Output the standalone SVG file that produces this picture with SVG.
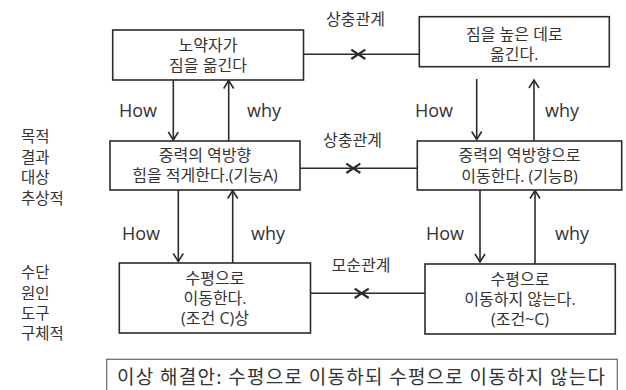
<svg xmlns="http://www.w3.org/2000/svg" width="626" height="390" viewBox="0 0 626 390">
<style>
.box{fill:#fff;stroke:#2b2b2b;stroke-width:1.6}
.bt{font-family:"Open Sans","Noto Sans CJK KR",sans-serif;font-size:16px;fill:#333;text-anchor:middle}
.lbl{font-family:"Noto Sans CJK KR",sans-serif;font-size:15.5px;fill:#333}
.hw{font-family:"Open Sans","Noto Sans CJK KR",sans-serif;font-size:18px;fill:#333}
.rel{font-family:"Noto Sans CJK KR",sans-serif;font-size:16px;fill:#333}
.ln{stroke:#2b2b2b;stroke-width:1.6;fill:none}
.arr{stroke:#2b2b2b;stroke-width:1.6;fill:none;marker-end:url(#ah)}
.x{stroke:#2b2b2b;stroke-width:2.2;fill:none}
</style>
<defs>
<marker id="ah" markerUnits="userSpaceOnUse" markerWidth="20" markerHeight="20" refX="0" refY="0" viewBox="-10 -10 20 20" orient="auto" overflow="visible">
<path d="M-8,-5 L0,0 L-8,5" fill="none" stroke="#2b2b2b" stroke-width="1.6"/>
</marker>
</defs>
<rect width="626" height="390" fill="#fff"/>
<g id="side-labels">
<text class="lbl" x="21" y="141.5">목적</text>
<text class="lbl" x="21" y="162.5">결과</text>
<text class="lbl" x="21" y="183">대상</text>
<text class="lbl" x="21" y="203.5">추상적</text>
<text class="lbl" x="21" y="278">수단</text>
<text class="lbl" x="21" y="298.5">원인</text>
<text class="lbl" x="21" y="318.5">도구</text>
<text class="lbl" x="21" y="339">구체적</text>
</g>
<g id="connectors">
<line class="ln" x1="303.5" y1="54.3" x2="419.3" y2="54.3"/>
<path class="x" d="M351.3,49.6 L365.3,59 M351.3,59 L365.3,49.6"/>
<line class="ln" x1="300" y1="168.3" x2="417" y2="168.3"/>
<path class="x" d="M346.3,163.6 L360.3,173 M346.3,173 L360.3,163.6"/>
<line class="ln" x1="310.5" y1="293.3" x2="425" y2="293.3"/>
<path class="x" d="M354.7,288.6 L368.7,298 M354.7,298 L368.7,288.6"/>
<line class="arr" x1="173.3" y1="80" x2="173.3" y2="140"/>
<line class="arr" x1="228.7" y1="141" x2="228.7" y2="80.5"/>
<line class="arr" x1="476.7" y1="79" x2="476.7" y2="139.5"/>
<line class="arr" x1="534" y1="141" x2="534" y2="80"/>
<line class="arr" x1="178.3" y1="190" x2="178.3" y2="261.5"/>
<line class="arr" x1="232.7" y1="263" x2="232.7" y2="190.5"/>
<line class="arr" x1="480" y1="190" x2="480" y2="262"/>
<line class="arr" x1="535" y1="264" x2="535" y2="190.5"/>
<text class="rel" x="326" y="25">상충관계</text>
<text class="rel" x="323" y="145.5">상충관계</text>
<text class="rel" x="331.5" y="271">모순관계</text>
<text class="hw" x="119" y="117">How</text>
<text class="hw" x="247" y="117">why</text>
<text class="hw" x="415" y="117">How</text>
<text class="hw" x="545" y="117">why</text>
<text class="hw" x="122" y="240">How</text>
<text class="hw" x="251" y="240">why</text>
<text class="hw" x="426" y="240">How</text>
<text class="hw" x="555" y="240">why</text>
</g>
<g id="node-goal">
<rect class="box" x="112.7" y="30" width="190.8" height="50"/>
<text class="bt" x="208" y="51">노약자가</text>
<text class="bt" x="208" y="71">짐을 옮긴다</text>
</g>
<g id="node-lift">
<rect class="box" x="419.3" y="16.7" width="190" height="50"/>
<text class="bt" x="514.3" y="39.5">짐을 높은 데로</text>
<text class="bt" x="514.3" y="59.5">옮긴다.</text>
</g>
<g id="node-funcA">
<rect class="box" x="110" y="141" width="190" height="49"/>
<text class="bt" x="205" y="161">중력의 역방향</text>
<text class="bt" x="205" y="181">힘을 적게한다.(기능A)</text>
</g>
<g id="node-funcB">
<rect class="box" x="417.3" y="141" width="204.4" height="49"/>
<text class="bt" x="519.5" y="161">중력의 역방향으로</text>
<text class="bt" x="519.5" y="181.5">이동한다. (기능B)</text>
</g>
<g id="node-condC">
<rect class="box" x="119.3" y="263" width="191.2" height="70"/>
<text class="bt" x="215" y="283.5">수평으로</text>
<text class="bt" x="215" y="303.5">이동한다.</text>
<text class="bt" x="215" y="323.5">(조건 C)상</text>
</g>
<g id="node-notC">
<rect class="box" x="425" y="264" width="190.3" height="70"/>
<text class="bt" x="520" y="284.5">수평으로</text>
<text class="bt" x="520" y="304.5">이동하지 않는다.</text>
<text class="bt" x="520" y="324.5">(조건~C)</text>
</g>
<g id="node-solution">
<rect x="106.7" y="359.3" width="510.6" height="40" fill="#fff" stroke="#666" stroke-width="1.2"/>
<text x="117" y="383.5" font-family="Noto Sans CJK KR,sans-serif" font-size="19" fill="#333" textLength="488" lengthAdjust="spacing">이상 해결안: 수평으로 이동하되 수평으로 이동하지 않는다</text>
</g>
</svg>
